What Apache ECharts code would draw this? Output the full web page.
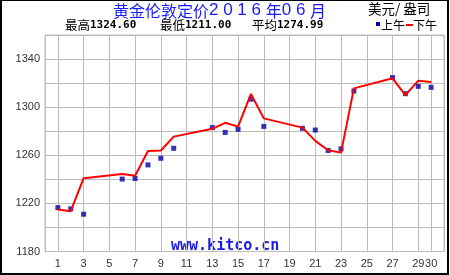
<!DOCTYPE html>
<html>
<head>
<meta charset="utf-8">
<script src="https://cdn.jsdelivr.net/npm/echarts@6/dist/echarts.min.js"></script>
<style>html,body{margin:0;padding:0;background:#fff}#c{width:450px;height:275px}</style>
</head>
<body>
<div id="c"></div>
<script>
// ---- data ----
const xCategories = Array.from({length: 32}, (_, i) => String(i)); // day axis 0..31
const xLabelDays = ['1','3','5','7','9','11','13','15','17','19','21','23','25','27','29','30'];
const days  = [1, 2, 3, 6, 7, 8, 9, 10, 13, 14, 15, 16, 17, 20, 21, 22, 23, 24, 27, 28, 29, 30];
const amFix = [1216.5, 1215.5, 1211.0, 1240.2, 1240.7, 1252.0, 1257.5, 1265.8, 1283.0, 1279.0, 1281.6, 1306.6, 1284.0, 1282.4, 1281.0, 1264.0, 1265.3, 1313.4, 1324.6, 1311.2, 1317.3, 1316.5];
const pmFix = [1215.0, 1213.5, 1241.0, 1244.4, 1243.0, 1263.5, 1264.0, 1275.5, 1282.0, 1287.0, 1283.8, 1311.0, 1290.7, 1283.0, 1272.0, 1264.2, 1262.2, 1315.6, 1324.0, 1310.0, 1322.0, 1321.0];
const yLabelValues = [1180, 1220, 1260, 1300, 1340];
const titleParts = ['黄金伦敦定价', '2 0 1 6 ', '年', '0 6 ', '月'];
const unitText = '美元/ 盎司';
const statNames = ['最高', '最低', '平均'];
const statValues = ['1324.60', '1211.00', '1274.99'];
const legendNames = ['上午', '下午'];
const watermark = 'www.kitco.cn';

const chart = echarts.init(document.getElementById('c'), null, {renderer: 'canvas'});
const amData = days.map((d, i) => [String(d), amFix[i]]);
const pmData = days.map((d, i) => [String(d), pmFix[i]]);

const cjk = '"Noto Sans CJK SC", sans-serif';
const mono = '"DejaVu Sans Mono", "Liberation Mono", monospace';
const sans = '"Liberation Sans", Arial, sans-serif';
const statX = [65, 160, 252];
const titleBlue = '#1a1aff';

const graphics = [
  {type: 'text', left: 113, top: 2, style: {
    text: titleParts.map((p, i) => (i % 2 === 0 ? '{c|' : '{d|') + p + '}').join(''),
    rich: {
      c: {font: '16px ' + cjk, fill: titleBlue, verticalAlign: 'bottom'},
      d: {font: '17px ' + sans, fill: titleBlue, verticalAlign: 'bottom'}
    }
  }},
  {type: 'text', left: 368, top: 2, style: {text: unitText, font: '13.5px ' + cjk, fill: '#000'}},
  {type: 'rect', shape: {x: 376, y: 22, width: 4, height: 4}, style: {fill: '#0000bb'}},
  {type: 'text', left: 381, top: 19, style: {text: legendNames[0], font: '12px ' + cjk, fill: '#000'}},
  {type: 'rect', shape: {x: 406, y: 24, width: 7, height: 2}, style: {fill: '#ff0000'}},
  {type: 'text', left: 413, top: 19, style: {text: legendNames[1], font: '12px ' + cjk, fill: '#000'}},
  {type: 'text', left: 171, top: 239, style: {text: watermark, font: 'bold 15px ' + mono, fill: '#1a1ae6'}},
  {type: 'rect', shape: {x: 1, y: 0, width: 447, height: 274}, style: {fill: 'none', stroke: '#000', lineWidth: 2}, silent: true}
];
statNames.forEach((n, i) => {
  graphics.push({type: 'text', left: statX[i], top: 19, style: {
    text: '{a|' + n + '}{b|' + statValues[i] + '}',
    rich: {a: {font: '12.5px ' + cjk, fill: '#000'}, b: {font: 'bold 11px ' + mono, fill: '#000'}}
  }});
});

chart.setOption({
  animation: false,
  grid: {left: 45, top: 35, right: 6, bottom: 23.5, show: true, borderColor: '#bdbdbd', borderWidth: 1},
  xAxis: {
    type: 'category', data: xCategories, boundaryGap: false,
    axisLine: {show: true, lineStyle: {color: '#bdbdbd'}},
    axisTick: {show: false},
    axisLabel: {
      interval: (idx, v) => xLabelDays.indexOf(v) >= 0,
      margin: 7, color: '#333', fontSize: 11, fontFamily: sans
    },
    splitLine: {show: true, interval: (idx, v) => (Number(v) % 2 === 1 || v === '30'), lineStyle: {color: '#bdbdbd', width: 1}}
  },
  yAxis: {
    type: 'value', min: 1180, max: 1360, interval: 20,
    axisLine: {show: true, lineStyle: {color: '#bdbdbd'}},
    axisTick: {show: false},
    axisLabel: {
      formatter: v => yLabelValues.indexOf(v) >= 0 ? String(v) : '',
      margin: 5, color: '#333', fontSize: 11, fontFamily: sans
    },
    splitLine: {show: true, lineStyle: {color: '#bdbdbd', width: 1}}
  },
  series: [
    {type: 'scatter', data: amData, symbol: 'rect', symbolSize: 5, itemStyle: {color: '#0000aa'}, z: 2},
    {type: 'line', data: pmData, symbol: 'none', lineStyle: {color: '#ff0000', width: 2}, z: 3}
  ],
  graphic: graphics
});
</script>
</body>
</html>
